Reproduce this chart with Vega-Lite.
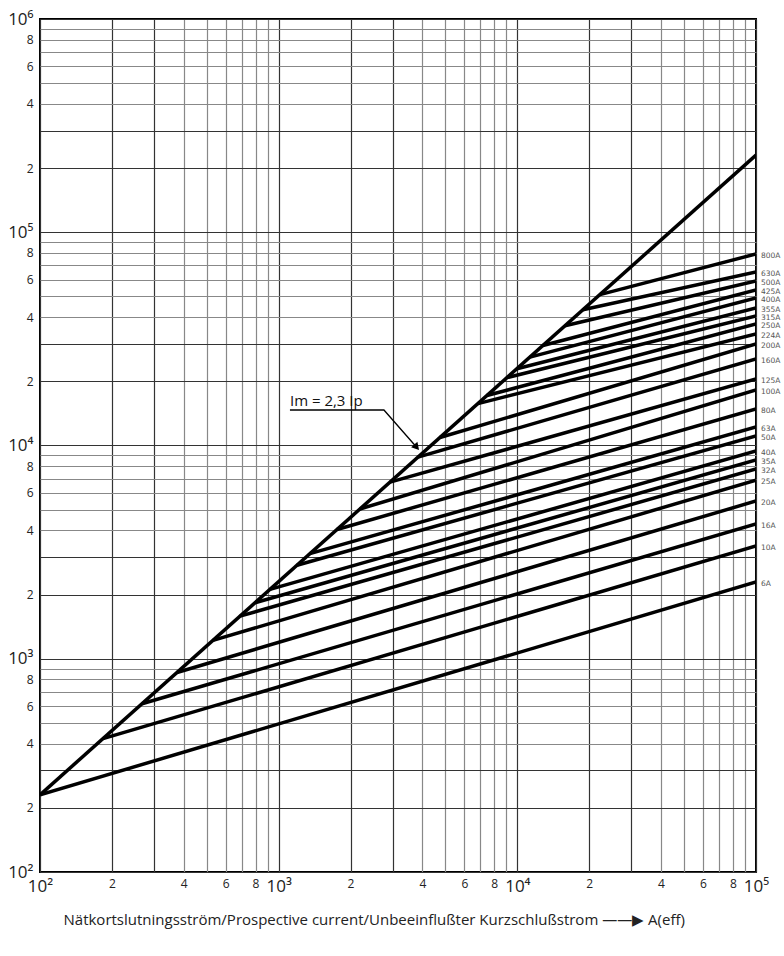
{
  "$schema": "https://vega.github.io/schema/vega-lite/v6.json",
  "width": 716,
  "height": 853,
  "autosize": {"type": "none"},
  "padding": {"left": 40, "top": 19, "right": 28, "bottom": 84},
  "background": "white",
  "config": {
    "view": {"stroke": "black", "strokeWidth": 2},
    "axis": {
      "domain": false,
      "ticks": false,
      "grid": true,
      "gridWidth": 1.2,
      "labelFont": "Open Sans",
      "labelColor": "#222",
      "labelOverlap": false,
      "labelFlush": false
    }
  },
  "datasets": {
    "lines": [
      {"fuse": "diag", "x": 100, "y": 230},
      {"fuse": "diag", "x": 100000, "y": 230000},
      {"fuse": "6A", "x": 100, "y": 230},
      {"fuse": "6A", "x": 100000, "y": 2291},
      {"fuse": "10A", "x": 183.6, "y": 422},
      {"fuse": "10A", "x": 100000, "y": 3380},
      {"fuse": "16A", "x": 267.5, "y": 615},
      {"fuse": "16A", "x": 100000, "y": 4285},
      {"fuse": "20A", "x": 374.9, "y": 862},
      {"fuse": "20A", "x": 100000, "y": 5495},
      {"fuse": "25A", "x": 530.6, "y": 1220},
      {"fuse": "25A", "x": 100000, "y": 6886},
      {"fuse": "32A", "x": 688.5, "y": 1584},
      {"fuse": "32A", "x": 100000, "y": 7760},
      {"fuse": "35A", "x": 795.6, "y": 1830},
      {"fuse": "35A", "x": 100000, "y": 8550},
      {"fuse": "40A", "x": 919.4, "y": 2115},
      {"fuse": "40A", "x": 100000, "y": 9420},
      {"fuse": "50A", "x": 1193, "y": 2744},
      {"fuse": "50A", "x": 100000, "y": 11090},
      {"fuse": "63A", "x": 1352, "y": 3110},
      {"fuse": "63A", "x": 100000, "y": 12220},
      {"fuse": "80A", "x": 1755, "y": 4037},
      {"fuse": "80A", "x": 100000, "y": 14830},
      {"fuse": "100A", "x": 2191, "y": 5039},
      {"fuse": "100A", "x": 100000, "y": 18200},
      {"fuse": "125A", "x": 2926, "y": 6730},
      {"fuse": "125A", "x": 100000, "y": 20500},
      {"fuse": "160A", "x": 3833, "y": 8816},
      {"fuse": "160A", "x": 100000, "y": 25460},
      {"fuse": "200A", "x": 4739, "y": 10900},
      {"fuse": "200A", "x": 100000, "y": 29930},
      {"fuse": "224A", "x": 6836, "y": 15723},
      {"fuse": "224A", "x": 100000, "y": 33340},
      {"fuse": "250A", "x": 7457, "y": 17151},
      {"fuse": "250A", "x": 100000, "y": 37150},
      {"fuse": "315A", "x": 9045, "y": 20804},
      {"fuse": "315A", "x": 100000, "y": 40480},
      {"fuse": "355A", "x": 9961, "y": 22910},
      {"fuse": "355A", "x": 100000, "y": 44150},
      {"fuse": "400A", "x": 11290, "y": 25967},
      {"fuse": "400A", "x": 100000, "y": 49190},
      {"fuse": "425A", "x": 12800, "y": 29440},
      {"fuse": "425A", "x": 100000, "y": 53580},
      {"fuse": "500A", "x": 15830, "y": 36409},
      {"fuse": "500A", "x": 100000, "y": 59040},
      {"fuse": "630A", "x": 18830, "y": 43309},
      {"fuse": "630A", "x": 100000, "y": 65110},
      {"fuse": "800A", "x": 22180, "y": 51014},
      {"fuse": "800A", "x": 100000, "y": 79080}
    ],
    "anno": [
      {"x": 1115, "y": 14670},
      {"x": 2761, "y": 14670},
      {"x": 3785, "y": 9808}
    ],
    "arrow": [
      {"x": 3785, "y": 9808}
    ],
    "note": [
      {"x": 1115, "y": 15400, "text": "Im = 2,3 Ip"}
    ]
  },
  "encoding": {
    "x": {
      "field": "x",
      "type": "quantitative",
      "scale": {"type": "log", "domain": [100, 100000], "nice": false},
      "axis": {
        "values": [100,200,300,400,500,600,700,800,900,1000,2000,3000,4000,5000,6000,7000,8000,9000,10000,20000,30000,40000,50000,60000,70000,80000,90000,100000],
        "labelExpr": "datum.value == 100 ? '10²' : datum.value == 1000 ? '10³' : datum.value == 10000 ? '10⁴' : datum.value == 100000 ? '10⁵' : (indexof([2,4,6,8], round(datum.value/pow(10, floor(log(datum.value)/LN10 + 1e-9)))) >= 0 ? '' + round(datum.value/pow(10, floor(log(datum.value)/LN10 + 1e-9))) : '')",
        "labelFontSize": {"condition": {"test": "abs(log(datum.value)/LN10 - round(log(datum.value)/LN10)) < 1e-6", "value": 17}, "value": 12},
        "labelPadding": 6,
        "gridColor": {"condition": {"test": "round(datum.value/pow(10, floor(log(datum.value)/LN10 + 1e-9))) <= 3", "value": "#333"}, "value": "#888"},
        "title": "Nätkortslutningsström/Prospective current/Unbeeinflußter  Kurzschlußstrom ——▶ A(eff)",
        "titleFont": "Open Sans",
        "titleFontSize": 15,
        "titleFontWeight": "normal",
        "titleColor": "#222",
        "titleAnchor": "start",
        "titleAlign": "left",
        "titleX": 23,
        "titleY": 52,
        "titleBaseline": "alphabetic"
      }
    },
    "y": {
      "field": "y",
      "type": "quantitative",
      "scale": {"type": "log", "domain": [100, 1000000], "nice": false},
      "axis": {
        "values": [100,200,300,400,500,600,700,800,900,1000,2000,3000,4000,5000,6000,7000,8000,9000,10000,20000,30000,40000,50000,60000,70000,80000,90000,100000,200000,300000,400000,500000,600000,700000,800000,900000,1000000],
        "labelExpr": "datum.value == 100 ? '10²' : datum.value == 1000 ? '10³' : datum.value == 10000 ? '10⁴' : datum.value == 100000 ? '10⁵' : datum.value == 1000000 ? '10⁶' : (indexof([2,4,6,8], round(datum.value/pow(10, floor(log(datum.value)/LN10 + 1e-9)))) >= 0 ? '' + round(datum.value/pow(10, floor(log(datum.value)/LN10 + 1e-9))) : '')",
        "labelFontSize": {"condition": {"test": "abs(log(datum.value)/LN10 - round(log(datum.value)/LN10)) < 1e-6", "value": 17}, "value": 12},
        "labelPadding": 7,
        "gridColor": {"condition": {"test": "round(datum.value/pow(10, floor(log(datum.value)/LN10 + 1e-9))) <= 3", "value": "#333"}, "value": "#888"},
        "title": null
      }
    }
  },
  "layer": [
    {
      "data": {"name": "lines"},
      "mark": {"type": "line", "color": "black", "strokeWidth": 3.5, "strokeCap": "butt", "clip": true},
      "encoding": {"detail": {"field": "fuse"}}
    },
    {
      "data": {"name": "lines"},
      "transform": [{"filter": "datum.x == 100000 && datum.fuse != 'diag'"}],
      "mark": {"type": "text", "align": "left", "baseline": "middle", "dx": 5, "dy": 2, "fontSize": 7.5, "font": "DejaVu Sans", "color": "#555"},
      "encoding": {"text": {"field": "fuse"}}
    },
    {
      "data": {"name": "anno"},
      "mark": {"type": "line", "color": "black", "strokeWidth": 1.3},
      "encoding": {"order": {"field": "x"}}
    },
    {
      "data": {"name": "arrow"},
      "mark": {"type": "point", "shape": "triangle-down", "angle": 319, "filled": true, "color": "black", "size": 70, "opacity": 1}
    },
    {
      "data": {"name": "note"},
      "mark": {"type": "text", "align": "left", "baseline": "alphabetic", "fontSize": 15, "font": "Open Sans", "color": "#111"},
      "encoding": {"text": {"field": "text"}}
    }
  ]
}
